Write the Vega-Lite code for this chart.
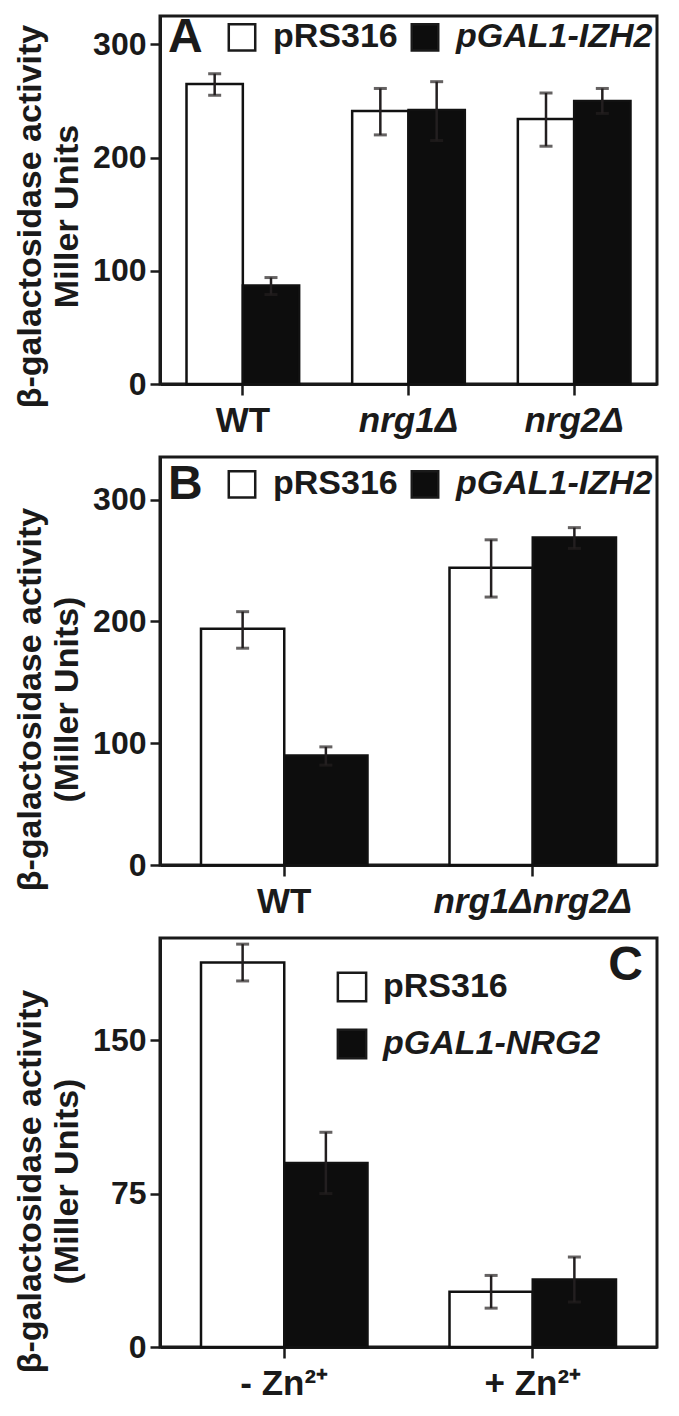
{
  "$schema": "https://vega.github.io/schema/vega-lite/v6.json",
  "padding": {"left": 12, "top": 14, "right": 5, "bottom": 5},
  "background": "white",
  "datasets": {
    "a": [
      {"strain": "WT", "plasmid": "pRS316", "value": 265, "lo": 255, "hi": 274},
      {"strain": "WT", "plasmid": "pGAL1-IZH2", "value": 87, "lo": 79, "hi": 94},
      {"strain": "nrg1Δ", "plasmid": "pRS316", "value": 241, "lo": 220, "hi": 261},
      {"strain": "nrg1Δ", "plasmid": "pGAL1-IZH2", "value": 242, "lo": 215, "hi": 267},
      {"strain": "nrg2Δ", "plasmid": "pRS316", "value": 234, "lo": 210, "hi": 257},
      {"strain": "nrg2Δ", "plasmid": "pGAL1-IZH2", "value": 250, "lo": 239, "hi": 261}
    ],
    "b": [
      {"strain": "WT", "plasmid": "pRS316", "value": 194, "lo": 178, "hi": 208},
      {"strain": "WT", "plasmid": "pGAL1-IZH2", "value": 90, "lo": 82, "hi": 97},
      {"strain": "nrg1Δnrg2Δ", "plasmid": "pRS316", "value": 244, "lo": 220, "hi": 267},
      {"strain": "nrg1Δnrg2Δ", "plasmid": "pGAL1-IZH2", "value": 269, "lo": 260, "hi": 277}
    ],
    "c": [
      {"strain": "- Zn²⁺", "plasmid": "pRS316", "value": 188, "lo": 179, "hi": 197},
      {"strain": "- Zn²⁺", "plasmid": "pGAL1-NRG2", "value": 90, "lo": 75, "hi": 105},
      {"strain": "+ Zn²⁺", "plasmid": "pRS316", "value": 27, "lo": 19, "hi": 35},
      {"strain": "+ Zn²⁺", "plasmid": "pGAL1-NRG2", "value": 33, "lo": 22, "hi": 44}
    ]
  },
  "spacing": 15,
  "resolve": {"scale": {"fill": "independent", "y": "independent", "x": "independent", "xOffset": "independent"}, "legend": {"fill": "independent"}},
  "vconcat": [
    {
      "width": 497,
      "height": 368,
      "data": {"name": "a"},
      "encoding": {
        "x": {"field": "strain", "type": "nominal", "sort": null, "scale": {"type": "band", "domain": ["WT", "nrg1Δ", "nrg2Δ"], "paddingInner": 0.32, "paddingOuter": 0.16},
          "axis": {"title": null, "labelFontStyle": {"condition": {"test": "datum.value === 'WT'", "value": "normal"}, "value": "italic"}}},
        "xOffset": {"field": "plasmid", "type": "nominal", "sort": null, "scale": {"type": "band", "domain": ["pRS316", "pGAL1-IZH2"], "paddingInner": 0, "paddingOuter": 0}}
      },
      "layer": [
        {
          "mark": {"type": "bar", "stroke": "#111", "strokeWidth": 2.5},
          "encoding": {
            "y": {"field": "value", "type": "quantitative", "stack": null,
              "scale": {"domain": [0, 325], "nice": false, "zero": true},
              "axis": {"title": ["β-galactosidase activity", "Miller Units"], "values": [0, 100, 200, 300], "titleY": 200}},
            "fill": {"field": "plasmid", "type": "nominal", "sort": null,
              "scale": {"domain": ["pRS316", "pGAL1-IZH2"], "range": ["white", "#0d0d0d"]},
              "legend": {"orient": "none", "legendX": 8, "legendY": 4, "direction": "horizontal", "title": "A",
                "titleOrient": "left", "titleFontSize": 48, "titlePadding": 22, "columnPadding": 8,
                "encode": {"labels": {"update": {"fontStyle": {"signal": "datum.label === 'pRS316' ? 'normal' : 'italic'"}}}}}}
          }
        },
        {
          "mark": {"type": "rule", "strokeWidth": 2.5, "color": "#231f20"},
          "encoding": {"y": {"field": "lo", "type": "quantitative"}, "y2": {"field": "hi"}}
        },
        {
          "mark": {"type": "tick", "size": 13, "thickness": 3, "color": "#231f20", "orient": "horizontal"},
          "encoding": {"y": {"field": "hi", "type": "quantitative"}}
        },
        {
          "mark": {"type": "tick", "size": 13, "thickness": 3, "color": "#231f20", "orient": "horizontal"},
          "encoding": {"y": {"field": "lo", "type": "quantitative"}}
        }
      ]
    },
    {
      "width": 497,
      "height": 408,
      "data": {"name": "b"},
      "encoding": {
        "x": {"field": "strain", "type": "nominal", "sort": null, "scale": {"type": "band", "domain": ["WT", "nrg1Δnrg2Δ"], "paddingInner": 0.33, "paddingOuter": 0.165},
          "axis": {"title": null, "labelFontStyle": {"condition": {"test": "datum.value === 'WT'", "value": "normal"}, "value": "italic"}}},
        "xOffset": {"field": "plasmid", "type": "nominal", "sort": null, "scale": {"type": "band", "domain": ["pRS316", "pGAL1-IZH2"], "paddingInner": 0, "paddingOuter": 0}}
      },
      "layer": [
        {
          "mark": {"type": "bar", "stroke": "#111", "strokeWidth": 2.5},
          "encoding": {
            "y": {"field": "value", "type": "quantitative", "stack": null,
              "scale": {"domain": [0, 335], "nice": false, "zero": true},
              "axis": {"title": ["β-galactosidase activity", "(Miller Units)"], "values": [0, 100, 200, 300], "titleY": 242}},
            "fill": {"field": "plasmid", "type": "nominal", "sort": null,
              "scale": {"domain": ["pRS316", "pGAL1-IZH2"], "range": ["white", "#0d0d0d"]},
              "legend": {"orient": "none", "legendX": 8, "legendY": 10, "direction": "horizontal", "title": "B",
                "titleOrient": "left", "titleFontSize": 48, "titlePadding": 22, "columnPadding": 8,
                "encode": {"labels": {"update": {"fontStyle": {"signal": "datum.label === 'pRS316' ? 'normal' : 'italic'"}}}}}}
          }
        },
        {
          "mark": {"type": "rule", "strokeWidth": 2.5, "color": "#231f20"},
          "encoding": {"y": {"field": "lo", "type": "quantitative"}, "y2": {"field": "hi"}}
        },
        {
          "mark": {"type": "tick", "size": 13, "thickness": 3, "color": "#231f20", "orient": "horizontal"},
          "encoding": {"y": {"field": "hi", "type": "quantitative"}}
        },
        {
          "mark": {"type": "tick", "size": 13, "thickness": 3, "color": "#231f20", "orient": "horizontal"},
          "encoding": {"y": {"field": "lo", "type": "quantitative"}}
        }
      ]
    },
    {
      "width": 497,
      "height": 409,
      "data": {"name": "c"},
      "title": {"text": "C", "anchor": "end", "frame": "group", "fontSize": 48, "fontWeight": "bold", "color": "#1a1a1a", "offset": -52, "dx": -14},
      "encoding": {
        "x": {"field": "strain", "type": "nominal", "sort": null, "scale": {"type": "band", "domain": ["- Zn²⁺", "+ Zn²⁺"], "paddingInner": 0.33, "paddingOuter": 0.165},
          "axis": {"title": null}},
        "xOffset": {"field": "plasmid", "type": "nominal", "sort": null, "scale": {"type": "band", "domain": ["pRS316", "pGAL1-NRG2"], "paddingInner": 0, "paddingOuter": 0}}
      },
      "layer": [
        {
          "mark": {"type": "bar", "stroke": "#111", "strokeWidth": 2.5},
          "encoding": {
            "y": {"field": "value", "type": "quantitative", "stack": null,
              "scale": {"domain": [0, 200], "nice": false, "zero": true},
              "axis": {"title": ["β-galactosidase activity", "(Miller Units)"], "values": [0, 75, 150], "titleY": 243}},
            "fill": {"field": "plasmid", "type": "nominal", "sort": null,
              "scale": {"domain": ["pRS316", "pGAL1-NRG2"], "range": ["white", "#0d0d0d"]},
              "legend": {"orient": "none", "legendX": 175, "legendY": 32, "direction": "vertical", "title": null,
                "rowPadding": 17, "symbolSize": 800,
                "encode": {"labels": {"update": {"fontStyle": {"signal": "datum.label === 'pRS316' ? 'normal' : 'italic'"}}}}}}
          }
        },
        {
          "mark": {"type": "rule", "strokeWidth": 2.5, "color": "#231f20"},
          "encoding": {"y": {"field": "lo", "type": "quantitative"}, "y2": {"field": "hi"}}
        },
        {
          "mark": {"type": "tick", "size": 13, "thickness": 3, "color": "#231f20", "orient": "horizontal"},
          "encoding": {"y": {"field": "hi", "type": "quantitative"}}
        },
        {
          "mark": {"type": "tick", "size": 13, "thickness": 3, "color": "#231f20", "orient": "horizontal"},
          "encoding": {"y": {"field": "lo", "type": "quantitative"}}
        }
      ]
    }
  ],
  "config": {
    "font": "Liberation Sans",
    "view": {"stroke": "#1a1a1a", "strokeWidth": 3},
    "axis": {
      "grid": false,
      "domainColor": "#1a1a1a",
      "domainWidth": 3,
      "tickColor": "#1a1a1a",
      "tickWidth": 2.5,
      "labelColor": "#1a1a1a",
      "labelFont": "Liberation Sans",
      "labelFontWeight": "bold",
      "labelLimit": 400,
      "titleColor": "#1a1a1a",
      "titleFont": "Liberation Sans",
      "titleFontWeight": "bold",
      "titleFontSize": 34,
      "titleLineHeight": 37
    },
    "axisY": {"tickSize": 10, "labelFontSize": 32, "labelPadding": 4, "titlePadding": 8, "titleAngle": -90},
    "axisX": {"tickSize": 11, "labelFontSize": 35, "labelPadding": 8, "labelAngle": 0},
    "legend": {
      "labelFont": "Liberation Sans",
      "labelFontSize": 34,
      "labelFontWeight": "bold",
      "labelColor": "#1a1a1a",
      "titleFont": "Liberation Sans",
      "titleFontWeight": "bold",
      "titleColor": "#1a1a1a",
      "symbolType": "square",
      "symbolSize": 700,
      "symbolStrokeColor": "#1a1a1a",
      "symbolStrokeWidth": 2.5,
      "labelOffset": 14,
      "labelLimit": 400
    }
  }
}
